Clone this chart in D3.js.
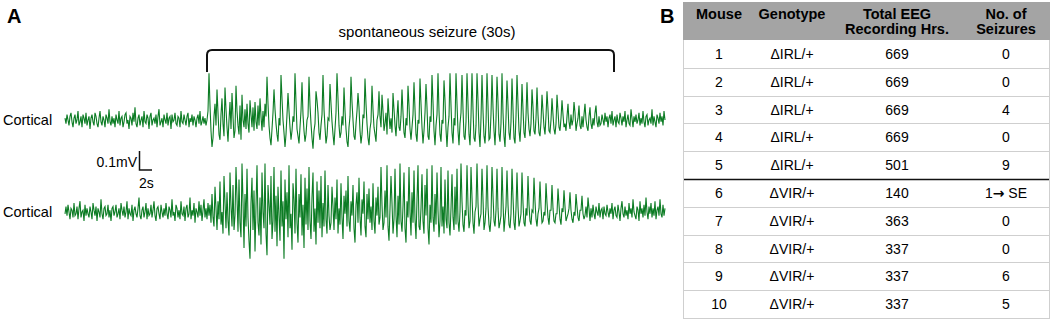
<!DOCTYPE html>
<html>
<head>
<meta charset="utf-8">
<script src="https://cdn.jsdelivr.net/npm/d3@7"></script>
<style>
  body { margin: 0; background: #fff; }
  svg text { font-family: "Liberation Sans", Arial, sans-serif; }
</style>
</head>
<body>
<div id="fig"></div>
<script>
// EEG traces, one sample per pixel column, in units of 0.01 mV
const corticalTop = [
  // baseline
  1,-2,3,0,-3,2,4,-1,-4,1,3,-2,0,5,-3,-1,2,-4,3,1,-2,4,-3,0,2,-5,1,3,-1,-3,4,2,-2,-4,1,5,-1,-3,2,0,-4,3,1,-2,6,-1,-3,2,-2,1,
  -4,3,0,-2,5,-3,1,2,-4,-1,3,4,-2,0,-5,2,1,-3,4,-1,7,-2,-4,1,3,-3,0,2,-4,5,-1,-2,3,1,-5,2,4,-3,0,1,-2,3,-4,2,6,-3,-1,1,-4,3,
  0,-2,4,-3,1,2,-5,3,-1,0,4,-2,-3,2,1,-4,5,-1,-2,3,0,-3,2,4,-4,1,-1,3,-3,2,0,-4,1,3,-2,5,-3,-1,2,-2,1,-3,0,
  // onset
  5,26,8,-6,-15,-10,2,9,-3,17,4,-8,-11,3,12,-2,-9,18,6,-4,-12,0,10,-5,15,2,-10,-6,19,5,-3,-8,8,-11,14,0,-4,
  6,-5,9,-2,-7,11,3,-4,7,-6,10,-1,-5,8,-3,12,2,-6,5,-4,9,
  // spike-wave
  2,24,9,-3,-10,-14,-5, 4,17,6,-2,-8,-12,1, -3,25,12,0,-7,-15,-8, 3,15,5,-4,-11,-6,2,
  -1,26,10,-5,-9,-13,-4, 5,21,3,-6,-12,-8,0, 2,24,8,-2,-10,-16,-6, -2,16,11,4,-7,-11,-3,
  3,25,6,-4,-13,-9,1, 0,20,9,-1,-8,-14,-5, 4,26,12,-3,-10,-7,2, -3,18,5,-5,-12,-15,-4,
  2,24,10,0,-9,-11,-2, 5,15,7,-6,-13,-8,3, 1,23,9,-2,-10,-14,-5, -1,19,6,-4,-8,-12,0, 3,16,2,
  -4,14,5,-6,-2,4,-8,12,3,-5,1,-7,15,6,-3,-9,2,11,-4,-6,
  2,17,4,-7,-10,1, -3,19,8,-5,-11,-4, 3,21,6,-8,-12,0, -2,23,9,-4,-13,-6, 4,20,7,-9,-11,2,
  -1,25,10,-6,-14,-3, 3,26,5,-8,-12,0, -2,22,11,-5,-15,-4, 2,26,8,-7,-13,1, -3,26,9,-6,-14,-2, 4,25,6,-9,-11,
  -1,26,9,-8,-14, 2,26,6,-10,-12, -3,26,11,-7,-15, 1,25,5,-9,-13, -2,26,8,-11,-10, 3,25,7,-6,-14,
  0,24,10,-8,-12, -2,26,4,-9,-15, 1,22,8,-7,-11, -1,23,6,-10,-13, 2,25,9,-6,-12,
  // decay
  -1,20,6,-7,-10, 2,21,4,-5,-9, -2,17,7,-6,-8, 1,18,3,-7,-9, -1,14,5,-4,-8, 2,16,6,-6,-7, 0,12,3,-5,-8, -2,14,5,-4,-6,
  1,11,3,-4,-2,-6, 2,9,-1,-5,3,-3, 0,10,4,-6,-2, 1,8,-3,-5,2,-4, 3,9,0,-4,-6, 2,7,-2,-5,1,-3, 4,8,-1,-4, 2,-3,
  // baseline
  -2,3,0,-3,4,-1,2,-4,1,3,-2,5,-3,0,2,-4,3,-1,-2,4,1,-3,2,-1,5,-4,0,3,-2,-3,6,1,-4,2,-1,3,-2,0,4,-3,
  1,-2,5,-1,-4,2,3,-3,0,1,-2,6,-3,2,-1,-4,3,1,-2,4,-1,2,-3,5,0
];

const corticalBottom = [
  // baseline
  -1,3,-2,4,0,-4,2,1,-3,5,-2,-1,3,-4,2,6,-3,0,1,-5,4,-2,2,-1,-3,3,0,-4,5,1,-2,3,-5,2,0,-3,7,-1,-4,2,3,-2,-1,4,-3,1,-5,2,3,-2,
  0,4,-3,-1,2,-4,5,1,-2,3,-3,0,6,-4,2,-1,-2,4,-5,1,3,-1,-3,2,8,-2,-4,1,3,-3,0,5,-4,2,-2,-1,4,-3,1,6,-2,-5,2,3,-1,-4,4,0,-3,2,
  -2,5,-1,-4,3,1,-3,7,-2,0,-5,4,2,-3,1,-4,6,-1,-2,3,-5,2,4,-3,-1,8,-4,1,-2,5,-6,2,0,-3,6,-2,4,-5,1,7,-3,2,-4,5,-2,
  // onset
  4,-6,10,-3,-8,14,2,-10,6,-4,17,-7,0,-12,20,5,-9,11,-5,-13,22,3,-8,15,-10,-2,25,8,-11,18,-6,
  -14,27,6,-20,10,-8,24,-3,-16,-26,5,19,-10,12,-22,3,26,-6,-13,8,
  -18,22,0,-9,27,-12,-24,15,4,-7,20,-15,-5,25,-11,9,-19,14,-2,-16,
  23,-8,6,-26,18,-4,11,-14,26,-9,-1,-21,16,7,-12,24,-6,-17,10,-3,
  21,-13,4,-20,19,-7,13,-10,25,-5,-15,8,22,-11,2,-18,17,-6,12,-9,
  20,-14,5,-8,23,-4,-12,15,-2,-10,
  -6,14,3,-10,8,-4,18,-12,2,-7,16,-3,-15,9,-1,12,-8,20,-5,-11,
  6,-2,15,-9,-17,4,11,-6,19,-3,-13,7,-1,17,-8,-14,10,-4,13,-6,
  3,-10,16,-5,-12,8,-2,14,-7,-3,
  25,4,-10,-6,12,-3,26,-8,-16,2,20,5,-12,-4,24,-2,-14,9,-7,27,
  -5,-11,3,22,-9,-17,6,-3,25,0,-13,11,-6,23,-4,-15,7,26,-8,-10,
  2,21,-5,-12,15,-2,24,-9,-18,4,-6,26,-3,-11,10,-7,22,1,-14,-5,
  25,-8,3,-12,18,-4,-9,23,-6,-13,2,21,-3,-10,14,-7,24,-5,-11,0,
  // spike train
  27,6,-7,-11,1, -2,26,4,-9,-5, 25,8,-6,-12,0, 3,27,5,-8,-4, -1,24,7,-10,-6, 2,26,3,-7,-11,
  -3,25,9,-5,-8, 1,24,2,-9,-6, -2,25,6,-11,-4, 3,23,4,-7,-9, -1,24,8,-6,-10, 2,22,3,-8,-5,
  // decay
  -1,22,5,-6,-8,2, -2,20,4,-5,-7,1, 0,19,6,-4,-8,-1, 2,17,3,-6,-5,0, -2,16,5,-3,-7,1, 1,15,2,-5,-6,-1,
  -1,13,4,-4,-7,2, 0,12,3,-5,-3,-1, 2,11,1,-4,-6,0, -2,10,3,-3,-5,1, 1,9,-1,-4,-2,3, -3,8,2,-5,
  // baseline
  2,-3,4,-1,-4,3,0,-2,5,-3,1,2,-4,3,-1,-2,4,0,-3,2,-1,5,-4,1,3,-2,-3,4,0,-5,2,6,-1,-3,3,-2,1,-4,5,-1,
  2,-3,7,0,-2,-4,3,1,-5,6,-1,2,-3,4,-2,8,0,-4,3,-1,5,-3,2,-2,6,-4,1,3,-2,7,-1,-3,4,-2,2
];

// Table B
const columns = [["Mouse"], ["Genotype"], ["Total EEG", "Recording Hrs."], ["No. of", "Seizures"]];
const mouseIds = ["1", "2", "3", "4", "5", "6", "7", "8", "9", "10"];
const genotypes = ["\u0394IRL/+", "\u0394IRL/+", "\u0394IRL/+", "\u0394IRL/+", "\u0394IRL/+",
                   "\u0394VIR/+", "\u0394VIR/+", "\u0394VIR/+", "\u0394VIR/+", "\u0394VIR/+"];
const recordingHrs = ["669", "669", "669", "669", "501", "140", "363", "337", "337", "337"];
const seizures = ["0", "0", "4", "0", "9", "1\u2192 SE", "0", "0", "6", "5"];

const width = 1052;
const height = 323;
const green = "#0c7c24";

const svg = d3.select("#fig").append("svg")
    .attr("width", width)
    .attr("height", height);

// ---------- panel A ----------
svg.append("text").attr("x", 7).attr("y", 23)
    .style("font-size", "20px").style("font-weight", "bold").text("A");

// 0.1 mV (10 units) = 18 px
const yTop = d3.scaleLinear().domain([-10, 10]).range([138, 102]);
const yBottom = d3.scaleLinear().domain([-10, 10]).range([230, 194]);

const traces = [
    { data: corticalTop, y: yTop },
    { data: corticalBottom, y: yBottom }
];

traces.forEach(t => {
    const x = d3.scaleLinear()
        .domain([0, t.data.length - 1])
        .range([65, 665]);
    const line = d3.line()
        .x((d, i) => x(i))
        .y(d => t.y(d));
    svg.append("path")
        .datum(t.data)
        .attr("d", line)
        .attr("fill", "none")
        .attr("stroke", green)
        .attr("stroke-width", 1.1);
});

svg.selectAll(".trace-label")
    .data([yTop(0), yBottom(0)])
    .enter().append("text")
    .attr("class", "trace-label")
    .attr("x", 3)
    .attr("y", d => d + 5)
    .style("font-size", "14.5px")
    .text("Cortical");

// seizure bracket
const bx0 = 207, bx1 = 614, by = 50, bLeg = 72;
svg.append("path")
    .attr("d", `M${bx0},${bLeg} L${bx0},${by + 5} Q${bx0},${by} ${bx0 + 5},${by} L${bx1 - 5},${by} Q${bx1},${by} ${bx1},${by + 5} L${bx1},${bLeg}`)
    .attr("fill", "none")
    .attr("stroke", "#111")
    .attr("stroke-width", 2);

svg.append("text")
    .attr("x", 427)
    .attr("y", 37)
    .attr("text-anchor", "middle")
    .style("font-size", "15px")
    .text("spontaneous seizure (30s)");

// scale bar
svg.append("path")
    .attr("d", "M139.5,151 L139.5,170 L152,170")
    .attr("fill", "none")
    .attr("stroke", "#111")
    .attr("stroke-width", 1.5);
svg.append("text").attr("x", 137).attr("y", 167)
    .attr("text-anchor", "end")
    .style("font-size", "14px").text("0.1mV");
svg.append("text").attr("x", 139).attr("y", 188)
    .style("font-size", "14px").text("2s");

// ---------- panel B ----------
svg.append("text").attr("x", 660).attr("y", 23)
    .style("font-size", "20px").style("font-weight", "bold").text("B");

const tLeft = 683, tRight = 1050, tTop = 2, headH = 38, rowH = 27.8;
const colX = [719, 792, 897, 1006];

const rowY = d3.scaleLinear()
    .domain([0, mouseIds.length])
    .range([tTop + headH, tTop + headH + rowH * mouseIds.length]);

const tbl = svg.append("g").attr("class", "table");

tbl.append("rect")
    .attr("x", tLeft).attr("y", tTop)
    .attr("width", tRight - tLeft).attr("height", headH)
    .attr("fill", "#a4a4a4");

columns.forEach((c, j) => {
    c.forEach((s, k) => {
        tbl.append("text")
            .attr("x", colX[j])
            .attr("y", tTop + 17 + k * 15)
            .attr("text-anchor", "middle")
            .style("font-size", "14.5px")
            .style("font-weight", "bold")
            .text(s);
    });
});

// row separators
tbl.selectAll(".sep")
    .data(d3.range(1, mouseIds.length + 1))
    .enter().append("line")
    .attr("class", "sep")
    .attr("x1", tLeft).attr("x2", tRight)
    .attr("y1", d => Math.round(rowY(d)) + 0.5)
    .attr("y2", d => Math.round(rowY(d)) + 0.5)
    .attr("stroke", d => d === 5 ? "#111" : "#cfcfcf")
    .attr("stroke-width", d => d === 5 ? 1.5 : 1);

// side borders
[tLeft + 0.5, tRight - 0.5].forEach(bx => {
    tbl.append("line")
        .attr("x1", bx).attr("x2", bx)
        .attr("y1", tTop + headH).attr("y2", rowY(mouseIds.length))
        .attr("stroke", "#cfcfcf");
});

const rows = mouseIds.map((m, i) => [m, genotypes[i], recordingHrs[i], seizures[i]]);

rows.forEach((r, i) => {
    r.forEach((v, j) => {
        const t = tbl.append("text")
            .attr("x", colX[j])
            .attr("y", (rowY(i) + rowY(i + 1)) / 2 + 5)
            .attr("text-anchor", "middle")
            .style("font-size", "14px");
        // the arrow is drawn a bit heavier, as in the source table
        v.split(/(\u2192)/).forEach(part => {
            const ts = t.append("tspan").text(part);
            if (part === "\u2192") {
                ts.style("font-family", "'DejaVu Sans', sans-serif")
                  .style("font-weight", "bold")
                  .style("font-size", "14px");
            }
        });
    });
});
</script>
</body>
</html>
